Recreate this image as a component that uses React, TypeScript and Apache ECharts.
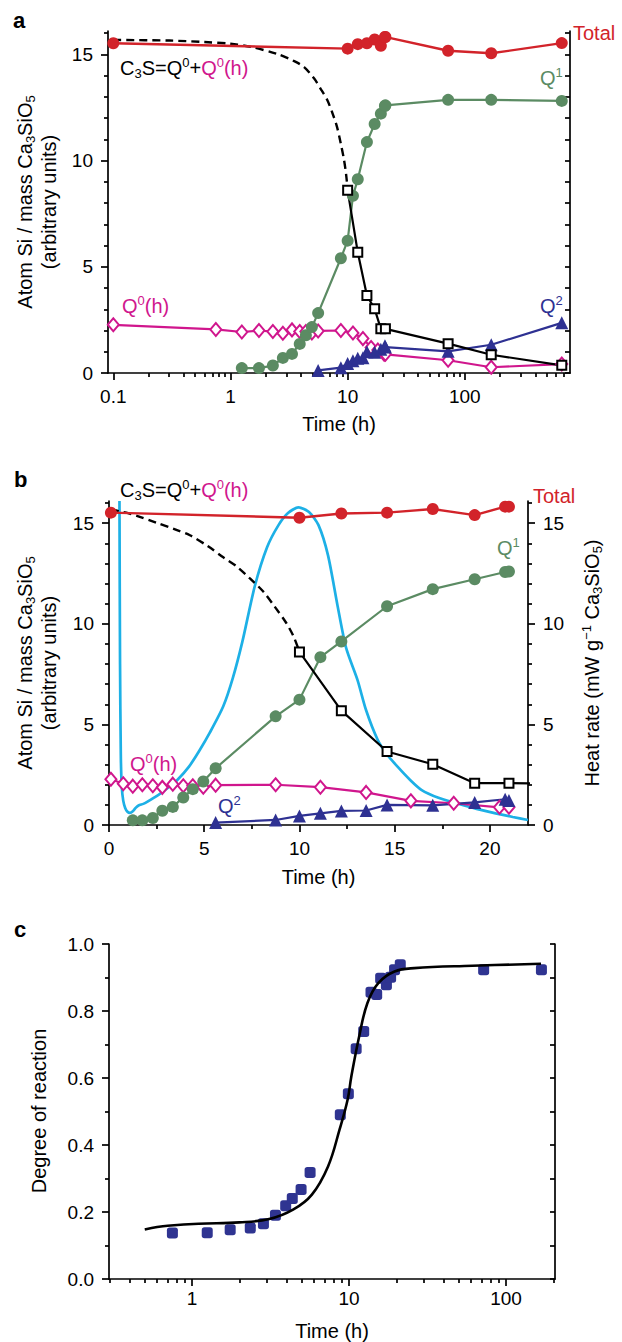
import React, { useEffect, useRef } from "react";
import * as echarts from "echarts";

const FONT = "'Liberation Sans', Arial, Helvetica, sans-serif";
const RED = "#d2232a";
const GREEN = "#5b8b63";
const MAG = "#d0168d";
const NAVY = "#2e3192";
const CYAN = "#1db0e6";
const SQ = "#2f3491";

// ---------------- data (time in hours) ----------------
const totalTime = [0.1, 10, 12.2, 14.6, 17, 19.2, 20.8, 21, 72, 168, 672];
const totalVal = [15.52, 15.27, 15.48, 15.52, 15.7, 15.4, 15.82, 15.82, 15.17, 15.05, 15.53];

const q1Time = [1.25, 1.75, 2.3, 2.8, 3.35, 3.9, 4.4, 4.95, 5.6, 8.75, 10, 11.1, 12.2, 14.6, 17, 19.2, 20.8, 21, 72, 168, 672];
const q1Val = [0.23, 0.23, 0.35, 0.71, 0.9, 1.37, 1.78, 2.16, 2.82, 5.4, 6.23, 8.34, 9.12, 10.87, 11.72, 12.21, 12.57, 12.6, 12.86, 12.86, 12.81];

const q2Time = [5.6, 8.75, 10, 11.1, 12.2, 13.5, 14.6, 17, 19.2, 20.8, 21, 72, 168, 672];
const q2Val = [0.12, 0.25, 0.45, 0.58, 0.7, 0.72, 1.0, 0.98, 1.12, 1.28, 1.22, 1.02, 1.33, 2.36];

const q0hTime = [0.1, 0.75, 1.25, 1.75, 2.3, 2.8, 3.35, 3.9, 4.4, 4.95, 5.6, 8.75, 11.1, 13.5, 15.85, 18.1, 20.5, 21, 72, 168, 672];
const q0hVal = [2.27, 2.05, 1.93, 2.0, 1.95, 1.87, 2.03, 1.95, 1.95, 1.88, 1.98, 2.0, 1.88, 1.62, 1.2, 1.08, 0.88, 0.88, 0.6, 0.27, 0.42];

const c3sTime = [10, 12.2, 14.6, 17, 19.2, 21, 72, 168, 672];
const c3sVal = [8.6, 5.68, 3.65, 3.02, 2.08, 2.08, 1.38, 0.86, 0.36];

// dashed model curve C3S = Q0 + Q0(h) before 10 h
const modelTime = [0.1, 0.3, 0.6, 1, 1.5, 2.5, 3.5, 4.25, 5.2, 6.0, 6.7, 7.4, 8.1, 8.7, 9.3, 9.7, 10];
const modelVal = [15.68, 15.65, 15.58, 15.5, 15.35, 15.02, 14.68, 14.4, 13.85, 13.3, 12.85, 12.25, 11.6, 10.85, 10.05, 9.35, 8.6];

// heat rate (mW/g Ca3SiO5), panel b, right axis
const heatTime = [0.55, 0.58, 0.62, 0.67, 0.75, 0.85, 0.97, 1.1, 1.25, 1.4, 1.55, 1.8, 2.0, 2.6, 3.1, 3.6, 4.2, 4.75, 5.3, 6.0, 6.5, 7.0, 7.65, 8.3, 8.9, 9.4, 9.95, 10.5, 11.0, 11.5, 12.0, 12.45, 13.05, 13.5, 14.1, 14.6, 15.15, 15.8, 16.4, 17.3, 18.25, 19.3, 20.3, 21.2, 22];
const heatVal = [16.1, 8, 3.5, 1.9, 1.2, 0.85, 0.66, 0.6, 0.68, 0.85, 0.97, 1.05, 1.15, 1.5, 1.85, 2.25, 2.9, 3.7, 4.6, 5.9, 7.3, 9.1, 11.85, 13.8, 14.9, 15.5, 15.78, 15.55, 14.9, 13.4, 10.9, 8.8, 7.2, 5.7, 4.25, 3.5, 2.9, 2.25, 1.75, 1.35, 1.08, 0.8, 0.58, 0.4, 0.25];

// panel c: degree of reaction
const degTime = [0.75, 1.25, 1.75, 2.35, 2.85, 3.4, 3.95, 4.35, 4.95, 5.65, 8.8, 9.9, 11.1, 12.4, 13.8, 15.0, 15.9, 17.3, 18.4, 19.5, 21.2, 72, 168];
const degVal = [0.137, 0.138, 0.147, 0.152, 0.165, 0.19, 0.219, 0.24, 0.267, 0.318, 0.49, 0.553, 0.687, 0.739, 0.856, 0.849, 0.898, 0.878, 0.901, 0.923, 0.938, 0.923, 0.923];
const fitTime = [0.5, 0.6, 0.7, 1.1, 2.0, 3.1, 4.4, 5.8, 7.35, 8.7, 9.8, 10.35, 11.6, 13.1, 15.4, 19.5, 26, 61, 167];
const fitVal = [0.148, 0.155, 0.159, 0.165, 0.169, 0.179, 0.207, 0.252, 0.336, 0.446, 0.536, 0.605, 0.724, 0.824, 0.884, 0.918, 0.928, 0.935, 0.941];

// ---------------- axes ----------------
const A_X_MIN = 0.0901, A_X_MAX = 790;
const B_X_MIN = 0, B_X_MAX = 22;
const C_X_MIN = 0.296, C_X_MAX = 205;
const Y_MAX = 16.1;
const A_X_MAJOR = [0.1, 1, 10, 100];
const C_X_MAJOR = [1, 10, 100];
const B_X_MAJOR = [0, 5, 10, 15, 20];
const B_X_MINOR = [2.5, 7.5, 12.5, 17.5];
const Y_MAJOR = [0, 5, 10, 15];
const Y_MINOR = [1, 2, 3, 4, 6, 7, 8, 9, 11, 12, 13, 14, 16];
const Y_ALL = [0, 1, 2, 3, 4, 5, 6, 7, 8, 9, 10, 11, 12, 13, 14, 15, 16];
const C_Y_MAJOR = [0, 0.2, 0.4, 0.6, 0.8, 1.0];
const C_Y_MINOR = [0.1, 0.3, 0.5, 0.7, 0.9];
const C_Y_ALL = [0, 0.1, 0.2, 0.3, 0.4, 0.5, 0.6, 0.7, 0.8, 0.9, 1.0];
const DECADES = [0.1, 1, 10, 100];
const MULT = [2, 3, 4, 5, 6, 7, 8, 9];

const lg = (t: number) => Math.log10(t);
const id = (t: number) => t;
const logMinor = (lo: number, hi: number) => {
  const out: number[] = [];
  DECADES.forEach((d) => MULT.forEach((m) => { const v = d * m; if (v > lo && v <= hi) out.push(lg(v)); }));
  return out;
};

const LS = { color: "#000", width: 1.7 };
const labelBase = { color: "#000", fontSize: 19, fontFamily: FONT };
const logFmt = (v: number) => { const x = Math.pow(10, v); return x < 1 ? x.toFixed(1) : String(Math.round(x)); };

function xAx(gi: number, min: number, max: number, ticks: number[], len: number, labels?: number[], fmt?: any, margin = 14) {
  return {
    type: "value", gridIndex: gi, min, max, position: "bottom",
    axisLine: { show: !!labels, onZero: false, lineStyle: LS },
    axisTick: { show: true, customValues: ticks, length: len, inside: false, lineStyle: LS },
    axisLabel: labels ? { ...labelBase, show: true, margin, customValues: labels, formatter: fmt } : { show: false },
    splitLine: { show: false },
  };
}
function yAx(gi: number, max: number, position: string, ticks: number[], len: number, inside: boolean, showLine: boolean, labels?: number[], fmt?: any, margin = 15) {
  return {
    type: "value", gridIndex: gi, min: 0, max, position,
    axisLine: { show: showLine, onZero: false, lineStyle: LS },
    axisTick: { show: true, customValues: ticks, length: len, inside, lineStyle: LS },
    axisLabel: labels ? { ...labelBase, show: true, margin, customValues: labels, formatter: fmt } : { show: false },
    splitLine: { show: false },
  };
}

function pairs(ts: number[], vs: number[], f: (t: number) => number, tmax = Infinity) {
  const out: number[][] = [];
  ts.forEach((t, i) => { if (t <= tmax) out.push([f(t), vs[i]]); });
  return out;
}

function panelSeries(f: (t: number) => number, xi: number, yi: number, tmax: number) {
  const base = { type: "line", xAxisIndex: xi, yAxisIndex: yi, clip: true };
  return [
    { ...base, name: "C3S model", data: pairs(modelTime, modelVal, f), symbol: "none", smooth: 0.3, lineStyle: { color: "#000", width: 2.4, type: [8, 5] } },
    { ...base, name: "Q0(h)", data: pairs(q0hTime, q0hVal, f, tmax), symbol: "diamond", symbolSize: [11, 13], itemStyle: { color: "#fff", borderColor: MAG, borderWidth: 2 }, lineStyle: { color: MAG, width: 2.2 } },
    { ...base, name: "Q1", data: pairs(q1Time, q1Val, f, tmax), symbol: "circle", symbolSize: 12, itemStyle: { color: GREEN }, lineStyle: { color: GREEN, width: 2.2 } },
    { ...base, name: "Q2", data: pairs(q2Time, q2Val, f, tmax), symbol: "triangle", symbolSize: 13, itemStyle: { color: NAVY }, lineStyle: { color: NAVY, width: 2.2 } },
    { ...base, name: "C3S", data: pairs(c3sTime, c3sVal, f), symbol: "rect", symbolSize: 9, itemStyle: { color: "#fff", borderColor: "#000", borderWidth: 2 }, lineStyle: { color: "#000", width: 2.2 } },
    { ...base, name: "Total", data: pairs(totalTime, totalVal, f, tmax), symbol: "circle", symbolSize: 12, itemStyle: { color: RED }, lineStyle: { color: RED, width: 2.4 } },
  ];
}

// ---------------- texts ----------------
const tok = (c: string) => ({ fill: c, color: c, fontSize: 20, fontFamily: FONT, lineHeight: 24, verticalAlign: "middle" });
const sub = (c: string) => ({ fill: c, color: c, fontSize: 13, fontFamily: FONT, lineHeight: 9, verticalAlign: "bottom" });
const sup = (c: string) => ({ fill: c, color: c, fontSize: 13, fontFamily: FONT, lineHeight: 15, verticalAlign: "top" });
const RICH: any = {
  k: tok("#000"), ks: sub("#000"), kp: sup("#000"),
  m: tok(MAG), mp: sup(MAG),
  g: tok(GREEN), gp: sup(GREEN),
  n: tok(NAVY), np: sup(NAVY),
  r: tok(RED),
  L: { fill: "#000", color: "#000", fontSize: 22, fontWeight: "bold", fontFamily: FONT, lineHeight: 24, verticalAlign: "middle" },
};
const C3S_TXT = "{k|C}{ks|3}{k|S=Q}{kp|0}{k|+}{m|Q}{mp|0}{m|(h)}";
const Q0H_TXT = "{m|Q}{mp|0}{m|(h)}";
const Q1_TXT = "{g|Q}{gp|1}";
const Q2_TXT = "{n|Q}{np|2}";
const TOTAL_TXT = "{r|Total}";
const TIME_TXT = "{k|Time (h)}";
const YT_TXT = "{k|Atom Si / mass Ca}{ks|3}{k|SiO}{ks|5}\n{k|(arbitrary units)}";
const HEAT_TXT = "{k|Heat rate (mW g}{kp|−1}{k| Ca}{ks|3}{k|SiO}{ks|5}{k|)}";
const DEG_TXT = "{k|Degree of reaction}";

function T(x: number, baseline: number, text: string, align = "left", off = 18.93) {
  return { type: "text", x, y: baseline - off, silent: true, style: { text, rich: RICH, align, verticalAlign: "top" } };
}
function TR(cx: number, cy: number, text: string) {
  return { type: "text", x: cx, y: cy, rotation: Math.PI / 2, silent: true, style: { text, rich: RICH, align: "center", verticalAlign: "middle" } };
}

function buildOption() {
  const aMinor = logMinor(A_X_MIN, A_X_MAX);
  const cMinor = logMinor(C_X_MIN, C_X_MAX);
  return {
    animation: false,
    backgroundColor: "#fff",
    grid: [
      { left: 108, top: 31, width: 462, height: 342 },
      { left: 109, top: 501, width: 419, height: 324 },
      { left: 109, top: 944, width: 446, height: 335 },
    ],
    xAxis: [
      xAx(0, lg(A_X_MIN), lg(A_X_MAX), A_X_MAJOR.map(lg), 7, A_X_MAJOR.map(lg), logFmt, 14),
      xAx(0, lg(A_X_MIN), lg(A_X_MAX), aMinor, 4),
      xAx(1, B_X_MIN, B_X_MAX, B_X_MAJOR, 7, B_X_MAJOR, (v: number) => String(v), 14),
      xAx(1, B_X_MIN, B_X_MAX, B_X_MINOR, 4),
      xAx(2, lg(C_X_MIN), lg(C_X_MAX), C_X_MAJOR.map(lg), 7, C_X_MAJOR.map(lg), logFmt, 10),
      xAx(2, lg(C_X_MIN), lg(C_X_MAX), cMinor, 4),
    ],
    yAxis: [
      yAx(0, Y_MAX, "left", Y_MAJOR, 7, false, true, Y_MAJOR, (v: number) => String(v)),
      yAx(0, Y_MAX, "left", Y_MINOR, 4, false, false),
      yAx(0, Y_MAX, "right", Y_ALL, 5, true, true),
      yAx(1, Y_MAX, "left", Y_MAJOR, 7, false, true, Y_MAJOR, (v: number) => String(v)),
      yAx(1, Y_MAX, "left", Y_MINOR, 4, false, false),
      yAx(1, Y_MAX, "right", Y_MAJOR, 7, false, true, Y_MAJOR, (v: number) => String(v)),
      yAx(1, Y_MAX, "right", Y_MINOR, 4, false, false),
      yAx(2, 1, "left", C_Y_MAJOR, 7, false, true, C_Y_MAJOR, (v: number) => v.toFixed(1)),
      yAx(2, 1, "left", C_Y_MINOR, 4, false, false),
      yAx(2, 1, "right", C_Y_ALL, 5, true, true),
    ],
    series: [
      ...panelSeries(lg, 0, 0, Infinity),
      { type: "line", name: "Heat rate", xAxisIndex: 2, yAxisIndex: 5, clip: true, data: pairs(heatTime, heatVal, id), symbol: "none", smooth: 0.25, lineStyle: { color: CYAN, width: 2.7 } },
      ...panelSeries(id, 2, 3, 22),
      { type: "scatter", name: "Degree", xAxisIndex: 4, yAxisIndex: 7, data: pairs(degTime, degVal, lg), symbol: "roundRect", symbolSize: 11, itemStyle: { color: SQ, opacity: 1 } },
      { type: "line", name: "Fit", xAxisIndex: 4, yAxisIndex: 7, data: pairs(fitTime, fitVal, lg), symbol: "none", smooth: 0.4, lineStyle: { color: "#000", width: 2.6 } },
    ],
    graphic: [
      T(13, 28.5, "{L|a}", "left", 19.6),
      T(120, 75, C3S_TXT),
      T(573, 40, TOTAL_TXT),
      T(540, 85, Q1_TXT),
      T(122, 313, Q0H_TXT),
      T(540, 313, Q2_TXT),
      T(339, 431, TIME_TXT, "center"),
      TR(36.8, 202, YT_TXT),

      T(14, 486.7, "{L|b}", "left", 19.6),
      T(120, 497, C3S_TXT),
      T(533, 503, TOTAL_TXT),
      T(497, 555, Q1_TXT),
      T(130, 771, Q0H_TXT),
      T(218, 813, Q2_TXT),
      T(318.5, 884, TIME_TXT, "center"),
      TR(36.8, 663, YT_TXT),
      TR(592, 663, HEAT_TXT),

      T(14, 936.7, "{L|c}", "left", 19.6),
      T(332, 1337.6, TIME_TXT, "center"),
      TR(38.5, 1111, DEG_TXT),
    ],
  };
}

export default function App() {
  const ref = useRef<HTMLDivElement>(null);
  useEffect(() => {
    if (!ref.current) return;
    const chart = echarts.init(ref.current, undefined, { renderer: "svg", width: 622, height: 1342 });
    chart.setOption(buildOption() as any);
    return () => chart.dispose();
  }, []);
  return <div ref={ref} style={{ position: "absolute", left: 0, top: 0, width: 622, height: 1342, background: "#fff" }} />;
}
